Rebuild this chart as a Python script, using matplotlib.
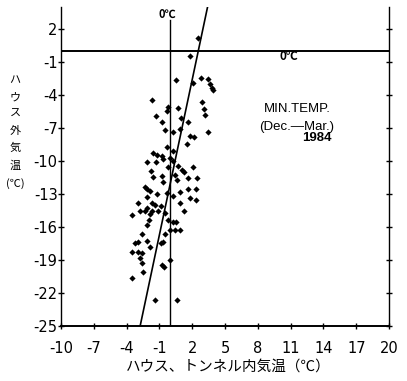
#!/usr/bin/env python3

import matplotlib
matplotlib.use("Agg")
import matplotlib.pyplot as plt
import numpy as np

JP = ["Noto Sans CJK JP", "DejaVu Sans"]
plt.rcParams["axes.unicode_minus"] = False

# inside (house / tunnel) min temperature vs outside min temperature, Dec.-Mar. 1984
inside_temp = [
    2.5, 1.8, 0.5, 2.1, 2.8, 3.4, 3.6, 3.8, 3.9,
    -1.7, -0.2, 0.7, -0.3, 2.9, 3.1, 3.2, -1.3, 1.0, -0.8, 1.6,
    -0.5, 0.2, 0.9, 3.4, 1.8, 2.2, 1.5, -0.3, 0.2, -1.6,
    -1.2, -0.8, -0.7, 0.0, -2.1, -1.3, 0.2, -0.2, 0.7, 1.1,
    1.2, 2.1, -1.8, -1.6, -0.8, -0.7, 0.4, 0.6, 1.6, 2.4,
    -2.3, -2.1, -1.9, -1.2, -0.3, 0.2, 0.9, 1.6, 2.3, -2.1,
    1.8, 2.3, -3.0, -1.7, -1.4, -0.9, 0.9, -2.1, -2.8, -2.3,
    -1.7, -1.1, -0.5, 1.2, -3.5, -1.9, -2.0, -2.1, -0.2, 0.2,
    0.5, -2.6, -0.5, 0.0, 0.4, 0.9, -3.2, -3.0, -2.1, -0.9,
    -0.7, -1.9, -3.5, -3.0, -2.6, -2.8, -2.6, 0.0, -0.8, -0.6,
    -2.5, -3.5, -1.4, 0.6,
]
outside_temp = [
    1.2, -0.5, -2.7, -2.9, -2.5, -2.6, -3.0, -3.4, -3.6,
    -4.5, -5.1, -5.2, -5.5, -4.7, -5.3, -5.8, -5.9, -6.1, -6.5, -6.5,
    -7.2, -7.4, -7.1, -7.4, -7.7, -7.8, -8.5, -8.7, -9.1, -9.3,
    -9.5, -9.6, -9.8, -9.7, -10.1, -10.1, -10.0, -10.6, -10.5, -10.8,
    -11.0, -10.6, -10.9, -11.5, -11.4, -11.9, -11.3, -11.7, -11.6, -11.6,
    -12.4, -12.6, -12.7, -13.0, -12.9, -13.2, -12.8, -12.6, -12.6, -13.3,
    -13.4, -13.6, -13.8, -13.8, -14.0, -14.1, -13.8, -14.3, -14.6, -14.6,
    -14.6, -14.6, -14.7, -14.6, -14.9, -14.8, -15.4, -15.8, -15.4, -15.6,
    -15.6, -16.6, -16.6, -16.3, -16.3, -16.3, -17.5, -17.4, -17.3, -17.5,
    -17.4, -17.8, -18.3, -18.3, -18.4, -18.8, -19.3, -19.0, -19.5, -19.6,
    -20.1, -20.6, -22.6, -22.6,
]

# regression line drawn on the chart: outside = intercept + slope * inside
slope = 4.7
intercept = -12.0

x_ticks = [-10, -7, -4, -1, 2, 5, 8, 11, 14, 17, 20]
y_ticks = [2, -1, -4, -7, -10, -13, -16, -19, -22, -25]
x_lim = (-10, 20)
y_lim = (-25, 4.0)
zero_c = 0.0


def main():
    fig = plt.figure(figsize=(4.07, 3.81), dpi=100)
    ax = fig.add_axes([0.150, 0.1444, 0.806, 0.838])

    ax.scatter(inside_temp, outside_temp, marker="D", s=10, c="black",
               linewidths=0, zorder=3)

    # regression line
    lx = np.array([(y_lim[0] - intercept) / slope, (y_lim[1] - intercept) / slope])
    ax.plot(lx, intercept + slope * lx, color="black", lw=1.2)

    # 0 C reference lines
    ax.plot([zero_c, zero_c], [y_lim[0], 2.8], color="black", lw=1.0)
    ax.axhline(zero_c, color="black", lw=1.4)
    ax.text(zero_c - 0.3, 3.3, "0℃", ha="center", va="center", fontsize=8,
            family=JP, weight="bold")
    ax.text(10.8, -0.55, "0℃", ha="center", va="center", fontsize=8.5,
            family=JP, weight="bold")

    ax.text(11.6, -5.3, "MIN.TEMP.", ha="center", va="center", fontsize=9.5,
            family="Liberation Sans")
    ax.text(11.5, -6.9, "(Dec.\u2014Mar.)", ha="center", va="center",
            fontsize=9.5, family="Liberation Sans")
    ax.text(13.4, -7.95, "1984", ha="center", va="center", fontsize=9.5,
            family="Liberation Sans", weight="bold")

    ax.set_xlim(*x_lim)
    ax.set_ylim(*y_lim)
    ax.set_xticks(x_ticks)
    ax.set_yticks(y_ticks)
    ax.tick_params(axis="x", direction="inout", length=5, width=1,
                   labelsize=10.5, pad=8)
    ax.tick_params(axis="y", direction="inout", length=5, width=1,
                   labelsize=10.5, pad=0, right=True)

    ax.spines["top"].set_visible(False)
    ax.spines["bottom"].set_linewidth(1.4)
    ax.spines["left"].set_linewidth(1.0)
    ax.spines["right"].set_linewidth(1.0)

    fig.text(0.56, 0.037, "ハウス、トンネル内気温（℃）", ha="center",
             va="center", fontsize=10.5, family=JP)
    fig.text(0.037, 0.653, "ハ\nウ\nス\n外\n気\n温\n(℃)", ha="center",
             va="center", fontsize=8, linespacing=1.85, family=JP)

    fig.savefig("out.png", dpi=100)


if __name__ == "__main__":
    main()
